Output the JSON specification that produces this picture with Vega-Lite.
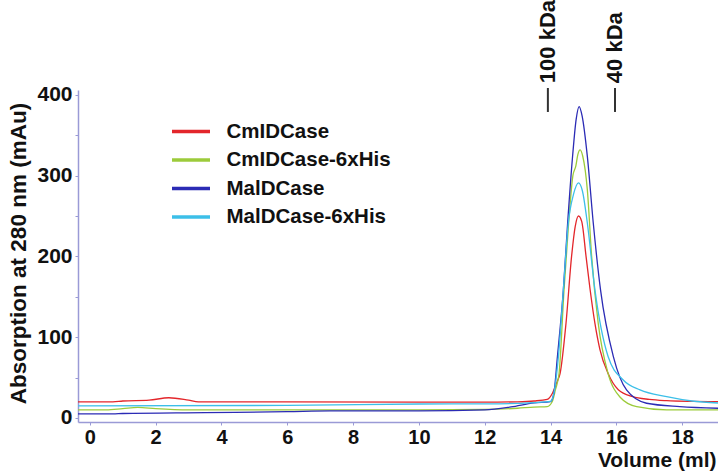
{
  "$schema": "https://vega.github.io/schema/vega-lite/v6.json",
  "width": 640,
  "height": 332,
  "autosize": {"type": "none"},
  "padding": {"left": 78, "top": 90, "right": 0, "bottom": 50},
  "background": "white",
  "config": {
    "view": {"stroke": null},
    "font": "Liberation Sans",
    "axis": {"grid": false}
  },
  "datasets": {
    "curves": [
      {"sample": "CmIDCase", "volume": -0.4, "abs": 20},
      {"sample": "CmIDCase", "volume": 0.7, "abs": 20},
      {"sample": "CmIDCase", "volume": 1.0, "abs": 21},
      {"sample": "CmIDCase", "volume": 1.8, "abs": 22},
      {"sample": "CmIDCase", "volume": 2.4, "abs": 25},
      {"sample": "CmIDCase", "volume": 3.0, "abs": 22},
      {"sample": "CmIDCase", "volume": 3.3, "abs": 20},
      {"sample": "CmIDCase", "volume": 6.0, "abs": 20},
      {"sample": "CmIDCase", "volume": 10.0, "abs": 19.5},
      {"sample": "CmIDCase", "volume": 12.0, "abs": 19.5},
      {"sample": "CmIDCase", "volume": 13.0, "abs": 20},
      {"sample": "CmIDCase", "volume": 13.5, "abs": 21},
      {"sample": "CmIDCase", "volume": 13.9, "abs": 23},
      {"sample": "CmIDCase", "volume": 14.05, "abs": 30},
      {"sample": "CmIDCase", "volume": 14.2, "abs": 45},
      {"sample": "CmIDCase", "volume": 14.29, "abs": 55},
      {"sample": "CmIDCase", "volume": 14.47, "abs": 117},
      {"sample": "CmIDCase", "volume": 14.64, "abs": 200},
      {"sample": "CmIDCase", "volume": 14.75, "abs": 237},
      {"sample": "CmIDCase", "volume": 14.85, "abs": 250},
      {"sample": "CmIDCase", "volume": 14.95, "abs": 243},
      {"sample": "CmIDCase", "volume": 15.08, "abs": 200},
      {"sample": "CmIDCase", "volume": 15.2, "abs": 160},
      {"sample": "CmIDCase", "volume": 15.35, "abs": 117},
      {"sample": "CmIDCase", "volume": 15.5, "abs": 85},
      {"sample": "CmIDCase", "volume": 15.75, "abs": 55},
      {"sample": "CmIDCase", "volume": 16.06, "abs": 35},
      {"sample": "CmIDCase", "volume": 16.5, "abs": 26.4},
      {"sample": "CmIDCase", "volume": 17.0, "abs": 23},
      {"sample": "CmIDCase", "volume": 17.53, "abs": 21.4},
      {"sample": "CmIDCase", "volume": 18.3, "abs": 20.5},
      {"sample": "CmIDCase", "volume": 19.1, "abs": 20.2},

      {"sample": "CmIDCase-6xHis", "volume": -0.4, "abs": 10},
      {"sample": "CmIDCase-6xHis", "volume": 0.5, "abs": 10},
      {"sample": "CmIDCase-6xHis", "volume": 1.0, "abs": 11.5},
      {"sample": "CmIDCase-6xHis", "volume": 1.46, "abs": 13},
      {"sample": "CmIDCase-6xHis", "volume": 2.0, "abs": 11.5},
      {"sample": "CmIDCase-6xHis", "volume": 3.0, "abs": 10},
      {"sample": "CmIDCase-6xHis", "volume": 6.0, "abs": 10},
      {"sample": "CmIDCase-6xHis", "volume": 10.0, "abs": 10},
      {"sample": "CmIDCase-6xHis", "volume": 12.0, "abs": 10.5},
      {"sample": "CmIDCase-6xHis", "volume": 13.0, "abs": 12},
      {"sample": "CmIDCase-6xHis", "volume": 13.5, "abs": 13.5},
      {"sample": "CmIDCase-6xHis", "volume": 13.9, "abs": 14},
      {"sample": "CmIDCase-6xHis", "volume": 14.05, "abs": 20},
      {"sample": "CmIDCase-6xHis", "volume": 14.15, "abs": 35},
      {"sample": "CmIDCase-6xHis", "volume": 14.26, "abs": 55},
      {"sample": "CmIDCase-6xHis", "volume": 14.41, "abs": 158},
      {"sample": "CmIDCase-6xHis", "volume": 14.55, "abs": 241},
      {"sample": "CmIDCase-6xHis", "volume": 14.68, "abs": 300},
      {"sample": "CmIDCase-6xHis", "volume": 14.77, "abs": 312},
      {"sample": "CmIDCase-6xHis", "volume": 14.83, "abs": 326},
      {"sample": "CmIDCase-6xHis", "volume": 14.9, "abs": 332},
      {"sample": "CmIDCase-6xHis", "volume": 14.98, "abs": 324},
      {"sample": "CmIDCase-6xHis", "volume": 15.12, "abs": 282},
      {"sample": "CmIDCase-6xHis", "volume": 15.25, "abs": 200},
      {"sample": "CmIDCase-6xHis", "volume": 15.45, "abs": 117},
      {"sample": "CmIDCase-6xHis", "volume": 15.75, "abs": 55},
      {"sample": "CmIDCase-6xHis", "volume": 16.11, "abs": 26},
      {"sample": "CmIDCase-6xHis", "volume": 16.62, "abs": 14},
      {"sample": "CmIDCase-6xHis", "volume": 17.53, "abs": 10},
      {"sample": "CmIDCase-6xHis", "volume": 19.1, "abs": 9.9},

      {"sample": "MalDCase", "volume": -0.4, "abs": 5},
      {"sample": "MalDCase", "volume": 0.7, "abs": 5},
      {"sample": "MalDCase", "volume": 1.0, "abs": 5.5},
      {"sample": "MalDCase", "volume": 3.5, "abs": 6.6},
      {"sample": "MalDCase", "volume": 6.0, "abs": 7.8},
      {"sample": "MalDCase", "volume": 7.3, "abs": 8.8},
      {"sample": "MalDCase", "volume": 10.0, "abs": 8.7},
      {"sample": "MalDCase", "volume": 12.0, "abs": 9.9},
      {"sample": "MalDCase", "volume": 12.8, "abs": 13.6},
      {"sample": "MalDCase", "volume": 13.5, "abs": 18.6},
      {"sample": "MalDCase", "volume": 14.0, "abs": 20.2},
      {"sample": "MalDCase", "volume": 14.1, "abs": 30},
      {"sample": "MalDCase", "volume": 14.21, "abs": 76},
      {"sample": "MalDCase", "volume": 14.39, "abs": 158.5},
      {"sample": "MalDCase", "volume": 14.52, "abs": 241},
      {"sample": "MalDCase", "volume": 14.67, "abs": 323.6},
      {"sample": "MalDCase", "volume": 14.78, "abs": 370},
      {"sample": "MalDCase", "volume": 14.87, "abs": 385.5},
      {"sample": "MalDCase", "volume": 14.96, "abs": 374},
      {"sample": "MalDCase", "volume": 15.12, "abs": 323.6},
      {"sample": "MalDCase", "volume": 15.3, "abs": 241},
      {"sample": "MalDCase", "volume": 15.52, "abs": 158.5},
      {"sample": "MalDCase", "volume": 15.91, "abs": 76},
      {"sample": "MalDCase", "volume": 16.31, "abs": 34.7},
      {"sample": "MalDCase", "volume": 16.92, "abs": 18.2},
      {"sample": "MalDCase", "volume": 17.93, "abs": 14},
      {"sample": "MalDCase", "volume": 19.1, "abs": 12},

      {"sample": "MalDCase-6xHis", "volume": -0.4, "abs": 15},
      {"sample": "MalDCase-6xHis", "volume": 6.0, "abs": 15.5},
      {"sample": "MalDCase-6xHis", "volume": 10.0, "abs": 17.3},
      {"sample": "MalDCase-6xHis", "volume": 12.0, "abs": 17.5},
      {"sample": "MalDCase-6xHis", "volume": 13.0, "abs": 18},
      {"sample": "MalDCase-6xHis", "volume": 13.5, "abs": 19},
      {"sample": "MalDCase-6xHis", "volume": 14.0, "abs": 20.5},
      {"sample": "MalDCase-6xHis", "volume": 14.1, "abs": 30},
      {"sample": "MalDCase-6xHis", "volume": 14.24, "abs": 76},
      {"sample": "MalDCase-6xHis", "volume": 14.39, "abs": 158.5},
      {"sample": "MalDCase-6xHis", "volume": 14.54, "abs": 241},
      {"sample": "MalDCase-6xHis", "volume": 14.7, "abs": 277},
      {"sample": "MalDCase-6xHis", "volume": 14.85, "abs": 291},
      {"sample": "MalDCase-6xHis", "volume": 14.97, "abs": 281},
      {"sample": "MalDCase-6xHis", "volume": 15.12, "abs": 241},
      {"sample": "MalDCase-6xHis", "volume": 15.35, "abs": 158.5},
      {"sample": "MalDCase-6xHis", "volume": 15.75, "abs": 76},
      {"sample": "MalDCase-6xHis", "volume": 16.21, "abs": 47},
      {"sample": "MalDCase-6xHis", "volume": 16.72, "abs": 34.7},
      {"sample": "MalDCase-6xHis", "volume": 17.53, "abs": 26.4},
      {"sample": "MalDCase-6xHis", "volume": 18.3, "abs": 21},
      {"sample": "MalDCase-6xHis", "volume": 19.1, "abs": 18.5}
    ],
    "markers": [
      {"volume": 13.92, "label": "100 kDa"},
      {"volume": 15.96, "label": "40 kDa"}
    ]
  },
  "layer": [
    {
      "data": {"name": "curves"},
      "mark": {"type": "line", "interpolate": "monotone", "strokeWidth": 1.3, "clip": true},
      "encoding": {
        "x": {
          "field": "volume", "type": "quantitative",
          "scale": {"domain": [-0.36, 19.09], "nice": false, "zero": false},
          "axis": {
            "title": "Volume (ml)",
            "values": [0,1,2,3,4,5,6,7,8,9,10,11,12,13,14,15,16,17,18,19],
            "labelExpr": "datum.value % 2 == 0 ? datum.label : ''",
            "domainColor": "#9a9ad6", "domainWidth": 1.5,
            "tickColor": "#9a9ad6", "tickSize": 3,
            "labelFontSize": 20, "labelFontWeight": "bold", "labelColor": "#111111",
            "labelPadding": 2, "labelFlush": false, "labelOverlap": false,
            "titleFontSize": 21, "titleFontWeight": "bold", "titleColor": "#111111",
            "titleAnchor": "end", "titleAlign": "right", "titleBaseline": "middle",
            "titleX": 638, "titleY": 38
          }
        },
        "y": {
          "field": "abs", "type": "quantitative",
          "scale": {"domain": [-5, 406], "nice": false, "zero": false},
          "axis": {
            "title": "Absorption at 280 nm (mAu)",
            "values": [0,50,100,150,200,250,300,350,400],
            "labelExpr": "datum.value % 100 == 0 ? datum.label : ''",
            "domainColor": "#9a9ad6", "domainWidth": 1.5,
            "tickColor": "#9a9ad6", "tickSize": 3,
            "labelFontSize": 21, "labelFontWeight": "bold", "labelColor": "#111111",
            "labelPadding": 3, "labelFlush": false, "labelOverlap": false,
            "titleFontSize": 22.5, "titleFontWeight": "bold", "titleColor": "#111111",
            "titleX": -60, "titleY": 163, "titleBaseline": "middle", "titleAlign": "center", "titleAngle": 270
          }
        },
        "color": {
          "field": "sample", "type": "nominal",
          "scale": {
            "domain": ["CmIDCase", "CmIDCase-6xHis", "MalDCase", "MalDCase-6xHis"],
            "range": ["#e3262b", "#9ccb3b", "#2b2bb5", "#3cbfe8"]
          },
          "legend": {
            "title": null,
            "orient": "none",
            "legendX": 101.5,
            "legendY": 30,
            "symbolType": "M-2,0H2",
            "symbolSize": 361,
            "symbolStrokeWidth": 3.5,
            "symbolFillColor": "transparent",
            "labelFontSize": 20.5,
            "labelFontWeight": "bold",
            "labelColor": "#111111",
            "labelOffset": 24,
            "labelLimit": 400,
            "rowPadding": 6.5,
            "padding": 0
          }
        }
      }
    },
    {
      "mark": {"type": "rule", "strokeDash": [6, 4], "color": "#d27bd2", "strokeWidth": 1.3},
      "encoding": {
        "x": {"datum": 0, "type": "quantitative"},
        "y": {"datum": 200, "type": "quantitative"},
        "y2": {"datum": -5}
      }
    },
    {
      "data": {"name": "markers"},
      "mark": {"type": "rule", "color": "#333333", "strokeWidth": 2},
      "encoding": {
        "x": {"field": "volume", "type": "quantitative"},
        "y": {"datum": 408.5, "type": "quantitative"},
        "y2": {"datum": 378.8}
      }
    },
    {
      "data": {"name": "markers"},
      "mark": {"type": "text", "angle": 270, "align": "left", "baseline": "middle", "fontSize": 22, "fontWeight": "bold", "color": "#111111"},
      "encoding": {
        "x": {"field": "volume", "type": "quantitative"},
        "y": {"datum": 414.5, "type": "quantitative"},
        "text": {"field": "label"}
      }
    }
  ]
}
